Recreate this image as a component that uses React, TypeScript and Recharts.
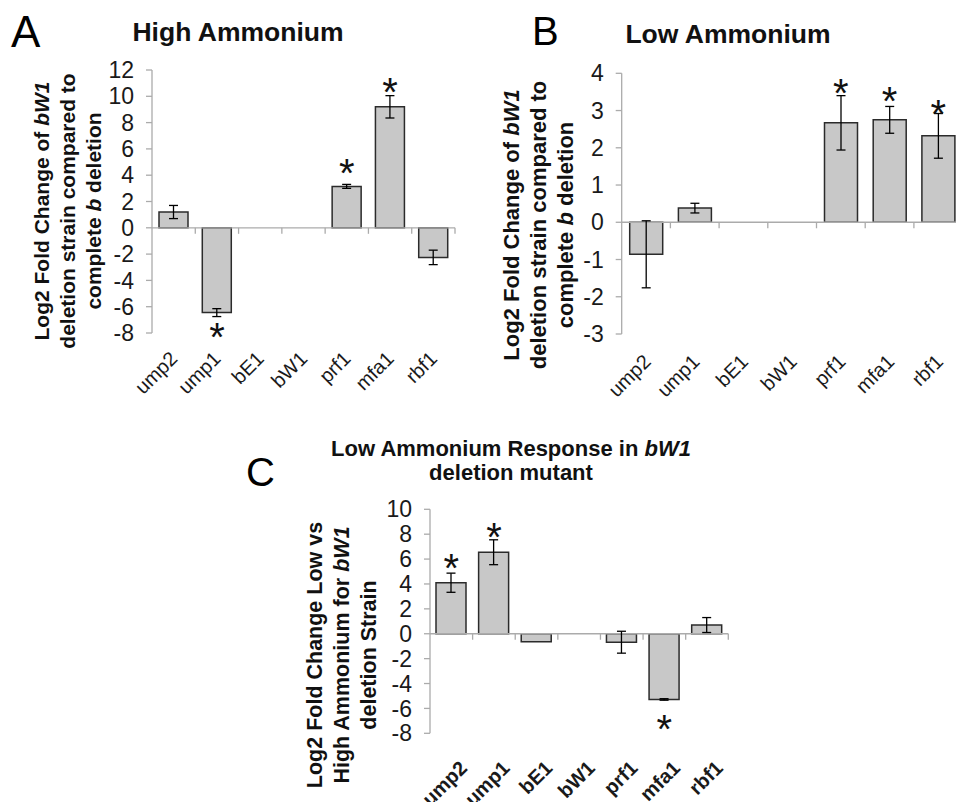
import React from "react";
import { ComposedChart, Bar, XAxis, YAxis, ErrorBar, ReferenceLine, Scatter } from "recharts";

// Genes measured by qRT-PCR (same order in every panel)
const genes = ["ump2", "ump1", "bE1", "bW1", "prf1", "mfa1", "rbf1"];

// A: High ammonium — log2 fold change of bW1 deletion vs complete b deletion
const highValues = [1.2, -6.45, 0, 0, 3.15, 9.2, -2.25];
const highErrors = [0.5, 0.3, null, null, 0.15, 0.85, 0.55];
const highStars = [null, -7.6, null, null, 4.8, 11.0, null];
const highTicks = [-8, -6, -4, -2, 0, 2, 4, 6, 8, 10, 12];

// B: Low ammonium — same comparison
const lowValues = [-0.86, 0.38, 0, 0, 2.67, 2.75, 2.32];
const lowErrors = [0.9, 0.13, null, null, 0.73, 0.36, 0.6];
const lowStars = [null, null, null, null, 3.71, 3.5, 3.15];
const lowTicks = [-3, -2, -1, 0, 1, 2, 3, 4];

// C: Low vs high ammonium response within the bW1 deletion strain
const respValues = [4.1, 6.55, -0.65, 0, -0.68, -5.28, 0.7];
const respErrors = [0.77, 1.0, null, null, 0.88, 0.06, 0.6];
const respStars = [6.0, 8.45, null, null, null, -6.95, null];
const respTicks = [-8, -6, -4, -2, 0, 2, 4, 6, 8, 10];

const FONT = "'Liberation Sans', Arial, Helvetica, sans-serif";
const AXIS = "#ababab";
const BAR_FILL = "#c8c8c8";
const BAR_STROKE = "#2b2b2b";
const Y_AXIS_WIDTH = 40;
const X_AXIS_HEIGHT = 60;

// Advance widths (em) of the glyphs used in the gene names, Arial metrics
const REGULAR_EM: Record<string, number> = { u: 0.556, m: 0.833, p: 0.556, "2": 0.556, "1": 0.556, b: 0.556, E: 0.667, W: 0.944, r: 0.333, f: 0.278, a: 0.556 };
const BOLD_EM: Record<string, number> = { u: 0.611, m: 0.889, p: 0.611, "2": 0.556, "1": 0.556, b: 0.611, E: 0.667, W: 0.944, r: 0.389, f: 0.333, a: 0.556 };
const textWidth = (s: string, fs: number, bold: boolean) =>
  s.split("").reduce((acc, ch) => acc + ((bold ? BOLD_EM : REGULAR_EM)[ch] ?? 0.556) * fs, 0);

type Row = { gene: string; value: number; err: number | null; star: number | null };

const buildRows = (values: number[], errors: (number | null)[], stars: (number | null)[]): Row[] =>
  genes.map((gene, i) => ({ gene, value: values[i], err: errors[i], star: stars[i] }));

// Zero line with category-boundary tick marks hanging below it
const zeroAxisShape = (count: number) => (props: any) => {
  const { x1, y1, x2, y2 } = props;
  const step = (x2 - x1) / count;
  return (
    <g>
      <line x1={x1} y1={y1} x2={x2} y2={y2} stroke={AXIS} strokeWidth={1.3} />
      {genes.map((_, k) => {
        const x = x1 + step * (k + 1);
        return <line key={k} x1={x} x2={x} y1={y1} y2={y1 + 6} stroke={AXIS} strokeWidth={1.3} />;
      })}
    </g>
  );
};

// Significance asterisk centred on the scatter point
const starShape = (props: any) => {
  const { cx, cy, payload } = props;
  if (payload == null || payload.star == null) return <g />;
  const fs = 40;
  return (
    <text x={cx} y={cy + fs * 0.57} textAnchor="middle" fontSize={fs} fontFamily={FONT} fill="#111">
      *
    </text>
  );
};

type Box = { left: number; top: number; width: number; height: number; margin: { top: number; right: number; bottom: number; left: number } };

// Panel placement on the page
const boxA: Box = { left: 0, top: 0, width: 470, height: 400, margin: { top: 70, right: 15, bottom: 7, left: 112 } };
const boxB: Box = { left: 480, top: 0, width: 500, height: 400, margin: { top: 73.3, right: 17.4, bottom: 6, left: 101.7 } };
const boxC: Box = { left: 260, top: 440, width: 490, height: 360, margin: { top: 69.3, right: 21.7, bottom: 6.7, left: 130 } };

type PanelProps = { rows: Row[]; ticks: number[]; box: Box; barSize: number };

const Panel = ({ rows, ticks, box, barSize }: PanelProps) => (
  <div style={{ position: "absolute", left: box.left, top: box.top }}>
    <ComposedChart width={box.width} height={box.height} data={rows} margin={box.margin}>
      <XAxis dataKey="gene" axisLine={false} tickLine={false} tick={false} interval={0} height={X_AXIS_HEIGHT} />
      <YAxis
        domain={[ticks[0], ticks[ticks.length - 1]]}
        ticks={ticks}
        interval={0}
        width={Y_AXIS_WIDTH}
        axisLine={{ stroke: AXIS, strokeWidth: 1.3 }}
        tickLine={{ stroke: AXIS, strokeWidth: 1.3 }}
        tickSize={6}
        tickMargin={12}
        tick={{ fontSize: 23, fill: "#1a1a1a", fontFamily: FONT }}
      />
      <ReferenceLine y={0} shape={zeroAxisShape(genes.length)} />
      <Bar dataKey="value" barSize={barSize} fill={BAR_FILL} stroke={BAR_STROKE} strokeWidth={1.5} isAnimationActive={false}>
        <ErrorBar dataKey="err" width={4.5} stroke="#000" strokeWidth={1.3} />
      </Bar>
      <Scatter dataKey="star" shape={starShape} isAnimationActive={false} />
    </ComposedChart>
  </div>
);

// Category names, rotated 45° and hung below each panel's plot area, each ending under its category
const GeneLabels = ({ box, bold, dx, dy }: { box: Box; bold: boolean; dx: number; dy: number }) => {
  const plotLeft = box.left + box.margin.left + Y_AXIS_WIDTH;
  const plotWidth = box.width - box.margin.left - Y_AXIS_WIDTH - box.margin.right;
  const plotBottom = box.top + box.height - box.margin.bottom - X_AXIS_HEIGHT;
  const band = plotWidth / genes.length;
  const fs = 20;
  return (
    <g>
      {genes.map((g, i) => {
        const ex = plotLeft + band * (i + 0.5) + dx;
        const ey = plotBottom + dy;
        const len = textWidth(g, fs, bold);
        // start point lies `len` back along the 45° baseline from the end point
        const sx = ex - len * Math.SQRT1_2;
        const sy = ey + len * Math.SQRT1_2;
        return (
          <text
            key={g}
            transform={`translate(${sx},${sy}) rotate(-45)`}
            fontSize={fs}
            fontWeight={bold ? 700 : 400}
            fontFamily={FONT}
            fill="#1a1a1a"
          >
            {g}
          </text>
        );
      })}
    </g>
  );
};

const YLabel = ({ cx, cy, fs, gap, lines }: { cx: number; cy: number; fs: number; gap: number; lines: React.ReactNode[] }) => (
  <g>
    {lines.map((line, i) => (
      <text
        key={i}
        transform={`translate(${cx + i * gap},${cy}) rotate(-90)`}
        textAnchor="middle"
        dominantBaseline="central"
        fontSize={fs}
        fontWeight={700}
        fontFamily={FONT}
        fill="#111"
      >
        {line}
      </text>
    ))}
  </g>
);

const highRows = buildRows(highValues, highErrors, highStars);
const lowRows = buildRows(lowValues, lowErrors, lowStars);
const respRows = buildRows(respValues, respErrors, respStars);

export default function App() {
  return (
    <div
      style={{
        position: "fixed",
        left: 0,
        top: 0,
        width: 956,
        height: 802,
        overflow: "hidden",
        background: "#fff",
        fontFamily: FONT,
      }}
    >
      <Panel rows={highRows} ticks={highTicks} box={boxA} barSize={29} />
      <Panel rows={lowRows} ticks={lowTicks} box={boxB} barSize={33} />
      <Panel rows={respRows} ticks={respTicks} box={boxC} barSize={30} />

      <svg width={956} height={802} style={{ position: "absolute", left: 0, top: 0, pointerEvents: "none" }}>
        {/* category labels */}
        <GeneLabels box={boxA} bold={false} dx={5} dy={27} />
        <GeneLabels box={boxB} bold={false} dx={6} dy={29} />
        <GeneLabels box={boxC} bold={true} dx={17} dy={36} />

        {/* panel letters */}
        <text x={11} y={46.7} fontSize={44} fontFamily={FONT} fill="#000">A</text>
        <text x={532} y={45} fontSize={40} fontFamily={FONT} fill="#000">B</text>
        <text x={246} y={486} fontSize={40} fontFamily={FONT} fill="#000">C</text>

        {/* titles */}
        <text x={238} y={41} textAnchor="middle" fontSize={26.5} fontWeight={700} fontFamily={FONT} fill="#111">
          High Ammonium
        </text>
        <text x={728} y={43.3} textAnchor="middle" fontSize={26.5} fontWeight={700} fontFamily={FONT} fill="#111">
          Low Ammonium
        </text>
        <text x={511} y={456} textAnchor="middle" fontSize={22} fontWeight={700} fontFamily={FONT} fill="#111">
          Low Ammonium Response in <tspan fontStyle="italic">bW1</tspan>
        </text>
        <text x={511} y={480} textAnchor="middle" fontSize={22} fontWeight={700} fontFamily={FONT} fill="#111">
          deletion mutant
        </text>

        {/* y-axis titles */}
        <YLabel
          cx={41}
          cy={211}
          fs={21}
          gap={26}
          lines={[
            <>Log2 Fold Change of <tspan fontStyle="italic">bW1</tspan></>,
            <>deletion strain compared to</>,
            <>complete <tspan fontStyle="italic">b</tspan> deletion</>,
          ]}
        />
        <YLabel
          cx={511}
          cy={225}
          fs={22}
          gap={27}
          lines={[
            <>Log2 Fold Change of <tspan fontStyle="italic">bW1</tspan></>,
            <>deletion strain compared to</>,
            <>complete <tspan fontStyle="italic">b</tspan> deletion</>,
          ]}
        />
        <YLabel
          cx={315}
          cy={655}
          fs={21.5}
          gap={27}
          lines={[
            <>Log2 Fold Change Low vs</>,
            <>High Ammonium for <tspan fontStyle="italic">bW1</tspan></>,
            <>deletion Strain</>,
          ]}
        />
      </svg>
    </div>
  );
}
